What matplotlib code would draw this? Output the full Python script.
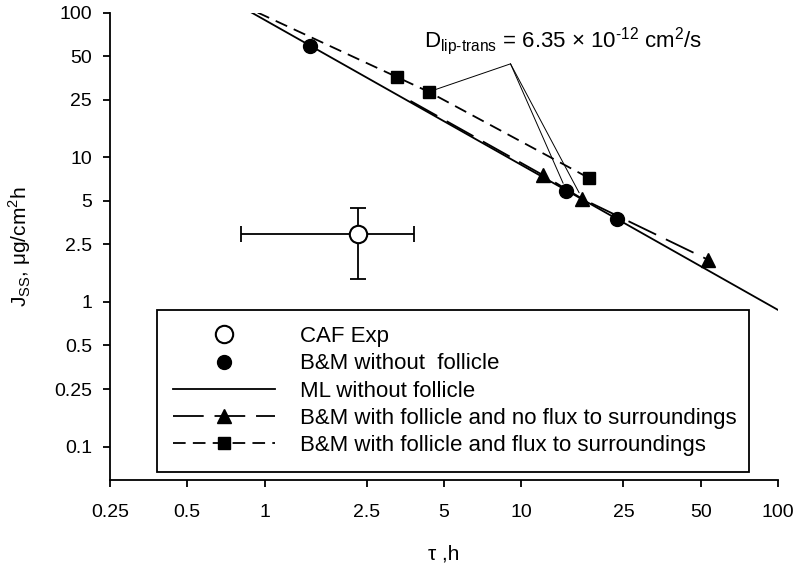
import numpy as np
import matplotlib.pyplot as plt
from matplotlib.ticker import FixedLocator, FixedFormatter, NullLocator

plt.rcParams['font.family'] = ['Liberation Sans', 'DejaVu Sans']
plt.rcParams['mathtext.fontset'] = 'custom'
plt.rcParams['mathtext.rm'] = 'Liberation Sans'

# CAF experiment (mean with error range)
caf_tau = [2.31]
caf_J = [2.95]
caf_tau_lo = [0.81]
caf_tau_hi = [3.81]
caf_J_lo = [1.44]
caf_J_hi = [4.45]

# B&M without follicle
bm_tau = [1.50, 15.0, 23.7]
bm_J = [58.9, 5.85, 3.74]

# ML without follicle
ml_tau = [0.89, 100]
ml_J = [100, 0.88]

# B&M with follicle and no flux to surroundings (first point = line start, no marker)
nf_tau = [3.7, 12.1, 17.3, 53.6]
nf_J = [24.5, 7.55, 5.15, 1.95]

# B&M with follicle and flux to surroundings (first point = line start, no marker)
fx_tau = [0.94, 3.27, 4.36, 18.3]
fx_J = [100, 35.9, 28.3, 7.2]

xticks = [0.25, 0.5, 1, 2.5, 5, 10, 25, 50, 100]
yticks = [0.1, 0.25, 0.5, 1, 2.5, 5, 10, 25, 50, 100]

fig = plt.figure(figsize=(8, 5.7), dpi=100)
ax = fig.add_axes([0.1375, 0.158, 0.835, 0.82])

lw = 1.3
ax.plot(ml_tau, ml_J, color='black', lw=lw, label='ML without follicle')
ax.plot(nf_tau, nf_J, color='black', lw=lw, dashes=(17, 6), marker='^', ms=10,
        markevery=[1, 2, 3], label='B&M with follicle and no flux to surroundings')
ax.plot(fx_tau, fx_J, color='black', lw=lw, dashes=(7, 4), marker='s', ms=8,
        markevery=[1, 2, 3], label='B&M with follicle and flux to surroundings')
ax.plot(bm_tau, bm_J, 'o', color='black', ms=10, label='B&M without  follicle')

xerr = [[caf_tau[0] - caf_tau_lo[0]], [caf_tau_hi[0] - caf_tau[0]]]
yerr = [[caf_J[0] - caf_J_lo[0]], [caf_J_hi[0] - caf_J[0]]]
ax.errorbar(caf_tau, caf_J, xerr=xerr, yerr=yerr, fmt='none', ecolor='black',
            elinewidth=lw, capsize=5.5, capthick=lw, zorder=3)
ax.plot(caf_tau, caf_J, 'o', mfc='white', mec='black', mew=1.5, ms=12.5,
        zorder=4, label='CAF Exp')

# leader lines from the D label to one point of each model
apex = (9.08, 44.2)
for tx, ty, shr in [(fx_tau[2], fx_J[2], 5), (bm_tau[1], bm_J[1], 6), (nf_tau[2], nf_J[2], 5)]:
    ax.annotate('', xy=(tx, ty), xytext=apex, xycoords='data',
                arrowprops=dict(arrowstyle='-', lw=0.7, color='black',
                                shrinkA=0, shrinkB=shr))
ax.text(0.470, 0.927,
        r'D$_{\mathregular{lip\text{-}trans}}$ = 6.35 × 10$^{\mathregular{\text{-}12}}$ cm$^{\mathregular{2}}$/s',
        transform=ax.transAxes, fontsize=16, ha='left', va='baseline')

ax.set_xscale('log')
ax.set_yscale('log')
ax.set_xlim(0.25, 100)
ax.set_ylim(0.0588, 100)
ax.xaxis.set_major_locator(FixedLocator(xticks))
ax.xaxis.set_major_formatter(FixedFormatter([f'{v:g}' for v in xticks]))
ax.yaxis.set_major_locator(FixedLocator(yticks))
ax.yaxis.set_major_formatter(FixedFormatter([f'{v:g}' for v in yticks]))
ax.xaxis.set_minor_locator(NullLocator())
ax.yaxis.set_minor_locator(NullLocator())
ax.tick_params(direction='out', length=5, width=1.3, labelsize=14)
ax.tick_params(axis='x', pad=12)
ax.tick_params(axis='y', pad=8)
for s in ['top', 'right']:
    ax.spines[s].set_visible(False)
for s in ['left', 'bottom']:
    ax.spines[s].set_linewidth(1.3)

ax.set_xlabel(r'τ ,h', fontsize=15, labelpad=17)
ax.set_ylabel(r'J$_{\mathregular{SS}}$, μg/cm$^{\mathregular{2}}$h', fontsize=15, labelpad=15)

handles, labels = ax.get_legend_handles_labels()
order = ['CAF Exp', 'B&M without  follicle', 'ML without follicle',
         'B&M with follicle and no flux to surroundings',
         'B&M with follicle and flux to surroundings']
hmap = dict(zip(labels, handles))
leg = ax.legend([hmap[k] for k in order], order, loc='lower left',
                bbox_to_anchor=(0.0704, 0.0171, 0.886, 0.347), mode='expand',
                borderaxespad=0, fontsize=16, frameon=True, fancybox=False,
                edgecolor='black', framealpha=1, handlelength=4.6,
                handletextpad=1.1, labelspacing=0.28, borderpad=0.72)
leg.get_frame().set_linewidth(1.3)

fig.savefig('out.png', dpi=100)
